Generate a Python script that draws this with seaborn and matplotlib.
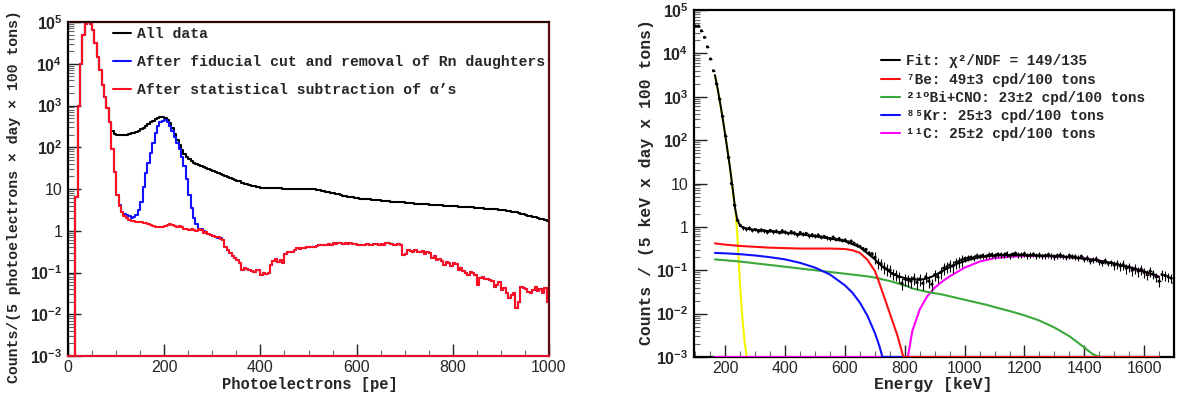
import numpy as np
import pandas as pd
import matplotlib
matplotlib.use("Agg")
import matplotlib.pyplot as plt
import seaborn as sns
from matplotlib.ticker import FixedLocator, FuncFormatter, MultipleLocator, NullFormatter
from matplotlib.lines import Line2D

# ---------------- LEFT PANEL DATA (log10 counts, 5-pe bins from 0 to 1000) ----------------
pe_bin_width = 5
all_data_log = [
    -5, -5, -5, 0.8, 3.0, 4.0, 4.7, 4.95, 5.0, 4.95, 4.8, 4.5, 4.15, 3.85, 3.5, 3.2, 2.95, 2.6, 2.38, 2.32,
    2.3, 2.29, 2.29, 2.29, 2.3, 2.31, 2.33, 2.35, 2.37, 2.4, 2.43, 2.47, 2.51, 2.55, 2.6, 2.64, 2.68, 2.71, 2.73, 2.73,
    2.7, 2.65, 2.57, 2.45, 2.32, 2.18, 2.05, 1.93, 1.83, 1.76, 1.71, 1.67, 1.63, 1.6, 1.57, 1.55, 1.52, 1.5, 1.47, 1.45,
    1.43, 1.41, 1.38, 1.36, 1.33, 1.31, 1.29, 1.27, 1.25, 1.22, 1.2, 1.18, 1.15, 1.13, 1.11, 1.09, 1.07, 1.06, 1.05, 1.04,
    1.03, 1.03, 1.02, 1.02, 1.02, 1.02, 1.02, 1.02, 1.02, 1.01, 1.01, 1.01, 1.01, 1.01, 1.0, 1.0, 1.0, 1.0, 1.0, 1.0,
    1.0, 0.99, 0.99, 0.98, 0.97, 0.96, 0.95, 0.94, 0.93, 0.91, 0.9, 0.88, 0.87, 0.86, 0.84, 0.83, 0.82, 0.81, 0.8, 0.79,
    0.78, 0.77, 0.77, 0.76, 0.75, 0.75, 0.74, 0.74, 0.73, 0.73, 0.72, 0.72, 0.71, 0.71, 0.7, 0.7, 0.69, 0.69, 0.68, 0.68,
    0.67, 0.67, 0.66, 0.66, 0.65, 0.65, 0.64, 0.64, 0.63, 0.63, 0.62, 0.62, 0.62, 0.61, 0.61, 0.61, 0.6, 0.6, 0.6, 0.59,
    0.59, 0.59, 0.58, 0.58, 0.57, 0.57, 0.57, 0.56, 0.56, 0.55, 0.55, 0.54, 0.54, 0.53, 0.53, 0.52, 0.52, 0.51, 0.51, 0.5,
    0.5, 0.49, 0.48, 0.47, 0.46, 0.45, 0.44, 0.42, 0.41, 0.39, 0.38, 0.36, 0.35, 0.33, 0.32, 0.3, 0.29, 0.27, 0.26, 0.24,
]
fiducial_log = [
    -5, -5, -5, 0.8, 3.0, 4.0, 4.7, 4.95, 5.0, 4.95, 4.8, 4.5, 4.15, 3.85, 3.5, 3.2, 2.95, 2.6, 1.95, 1.4,
    0.85, 0.62, 0.45, 0.4, 0.38, 0.35, 0.3, 0.34, 0.38, 0.5, 0.7, 1.05, 1.38, 1.62, 1.86, 2.1, 2.35, 2.5, 2.6, 2.64,
    2.65, 2.6, 2.5, 2.4, 2.25, 2.1, 1.95, 1.77, 1.55, 1.25, 0.85, 0.55, 0.3, 0.15, 0.05, 0.03, 0.0, -0.04, -0.08, -0.1,
    -0.12, -0.15, -0.17, -0.18, -0.22, -0.38, -0.45, -0.54, -0.6, -0.66, -0.7, -0.77, -0.94, -0.9, -0.92, -0.94, -0.96, -0.98, -0.95, -0.94,
    -1.06, -1.0, -1.04, -1.0, -0.82, -0.72, -0.68, -0.75, -0.7, -0.78, -0.55, -0.5, -0.52, -0.5, -0.46, -0.42, -0.44, -0.42, -0.42, -0.4,
    -0.38, -0.39, -0.38, -0.36, -0.34, -0.35, -0.33, -0.34, -0.32, -0.33, -0.3, -0.31, -0.29, -0.3, -0.31, -0.3, -0.32, -0.3, -0.31, -0.32,
    -0.34, -0.33, -0.35, -0.33, -0.32, -0.34, -0.33, -0.31, -0.32, -0.33, -0.32, -0.34, -0.3, -0.29, -0.31, -0.33, -0.35, -0.32, -0.33, -0.58,
    -0.55, -0.45, -0.48, -0.5, -0.47, -0.52, -0.5, -0.48, -0.56, -0.5, -0.53, -0.66, -0.6, -0.7, -0.68, -0.72, -0.82, -0.75, -0.77, -0.85,
    -0.78, -0.8, -0.94, -0.9, -0.96, -1.0, -1.06, -0.98, -1.02, -1.05, -1.3, -1.14, -1.1, -1.15, -1.16, -1.18, -1.2, -1.34, -1.3, -1.22,
    -1.42, -1.38, -1.5, -1.6, -1.54, -1.48, -1.86, -1.7, -1.34, -1.38, -1.4, -1.46, -1.5, -1.42, -1.35, -1.44, -1.4, -1.5, -1.38, -1.7,
]
alpha_sub_log = [
    -5, -5, -5, 0.8, 3.0, 4.0, 4.7, 4.95, 5.0, 4.95, 4.8, 4.5, 4.15, 3.85, 3.5, 3.2, 2.95, 2.6, 1.95, 1.4,
    0.85, 0.6, 0.45, 0.36, 0.3, 0.26, 0.24, 0.23, 0.22, 0.2, 0.22, 0.19, 0.18, 0.17, 0.14, 0.12, 0.1, 0.08, 0.1, 0.09,
    0.12, 0.13, 0.15, 0.13, 0.12, 0.1, 0.11, 0.08, 0.04, 0.03, 0.02, 0.03, 0.01, 0.0, 0.03, 0.02, -0.05, -0.04, -0.08, -0.1,
    -0.12, -0.15, -0.16, -0.2, -0.22, -0.38, -0.45, -0.54, -0.6, -0.66, -0.7, -0.77, -0.94, -0.9, -0.92, -0.94, -0.96, -0.98, -0.95, -0.94,
    -1.06, -1.0, -1.04, -1.0, -0.82, -0.72, -0.68, -0.75, -0.7, -0.78, -0.55, -0.5, -0.52, -0.5, -0.46, -0.42, -0.44, -0.42, -0.42, -0.4,
    -0.38, -0.39, -0.38, -0.36, -0.34, -0.35, -0.33, -0.34, -0.32, -0.33, -0.3, -0.31, -0.29, -0.3, -0.31, -0.3, -0.32, -0.3, -0.31, -0.32,
    -0.34, -0.33, -0.35, -0.33, -0.32, -0.34, -0.33, -0.31, -0.32, -0.33, -0.32, -0.34, -0.3, -0.29, -0.31, -0.33, -0.35, -0.32, -0.33, -0.58,
    -0.55, -0.45, -0.48, -0.5, -0.47, -0.52, -0.5, -0.48, -0.56, -0.5, -0.53, -0.66, -0.6, -0.7, -0.68, -0.72, -0.82, -0.75, -0.77, -0.85,
    -0.78, -0.8, -0.94, -0.9, -0.96, -1.0, -1.06, -0.98, -1.02, -1.05, -1.3, -1.14, -1.1, -1.15, -1.16, -1.18, -1.2, -1.34, -1.3, -1.22,
    -1.42, -1.38, -1.5, -1.6, -1.54, -1.48, -1.86, -1.7, -1.34, -1.38, -1.4, -1.46, -1.5, -1.42, -1.35, -1.44, -1.4, -1.5, -1.38, -1.7,
]
left_labels = ["All data",
               "After fiducial cut and removal of Rn daughters",
               "After statistical subtraction of \u03b1\u2019s"]

# ---------------- RIGHT PANEL DATA ----------------
data_energy_step = 10
data_energy_start = 100
data_log = [
    4.63, 4.63, 4.52, 4.37, 4.15, 3.87, 3.6, 3.3, 2.95, 2.55,
    2.1, 1.6, 1.0, 0.5, 0.15, 0.03, -0.02, -0.05, -0.03, -0.08,
    -0.06, -0.1, -0.07, -0.09, -0.12, -0.08, -0.11, -0.1, -0.13, -0.09,
    -0.12, -0.15, -0.11, -0.14, -0.18, -0.13, -0.17, -0.15, -0.2, -0.18,
    -0.21, -0.19, -0.24, -0.22, -0.25, -0.27, -0.24, -0.29, -0.27, -0.31,
    -0.3, -0.35, -0.33, -0.38, -0.42, -0.45, -0.5, -0.52, -0.6, -0.62,
    -0.7, -0.82, -0.85, -0.93, -0.97, -1.0, -1.08, -1.1, -1.15, -1.3,
    -1.2, -1.22, -1.25, -1.18, -1.28, -1.2, -1.3, -1.15, -1.25, -1.32,
    -1.1, -1.15, -1.05, -0.95, -0.92, -0.88, -0.9, -0.82, -0.8, -0.76,
    -0.73, -0.72, -0.7, -0.71, -0.67, -0.68, -0.66, -0.68, -0.65, -0.64,
    -0.66, -0.63, -0.64, -0.65, -0.62, -0.66, -0.63, -0.61, -0.65, -0.64,
    -0.62, -0.66, -0.65, -0.63, -0.67, -0.65, -0.68, -0.66, -0.64, -0.67,
    -0.69, -0.66, -0.65, -0.68, -0.7, -0.66, -0.68, -0.69, -0.72, -0.68,
    -0.75, -0.72, -0.79, -0.76, -0.74, -0.8, -0.83, -0.78, -0.84, -0.82,
    -0.88, -0.85, -0.9, -0.87, -0.95, -0.92, -1.0, -0.96, -1.02, -0.98,
    -1.05, -1.1, -1.02, -1.08, -1.15, -1.25, -1.1, -1.12, -1.15, -1.18,
    -1.3,
]
data_rel_err = [0.02] * 16 + [0.1] * 44 + [0.3] * 30 + [0.15] * 50 + [0.25] * 21

yellow_energy = [165, 175, 185, 195, 205, 215, 225, 235, 242, 250, 258, 265, 272]
yellow_log = [3.5, 3.15, 2.75, 2.32, 1.86, 1.38, 0.82, 0.28, -0.45, -1.45, -2.2, -2.7, -3.2]

fit_energy = [165, 175, 185, 195, 205, 215, 225, 232, 238, 245, 255, 270, 300, 350, 400, 450, 500,
              550, 600, 650, 700, 725, 750, 775, 800, 825, 850, 875, 900, 925, 950, 975, 1000, 1025,
              1050, 1075, 1100, 1150, 1200, 1250, 1300, 1350, 1400, 1450, 1500, 1550, 1600, 1650]
fit_log = [3.5, 3.15, 2.75, 2.32, 1.86, 1.38, 0.85, 0.45, 0.22, 0.08, 0.0, -0.04, -0.07, -0.1, -0.13,
           -0.17, -0.22, -0.27, -0.33, -0.47, -0.75, -0.92, -1.04, -1.13, -1.18, -1.21, -1.22, -1.19,
           -1.12, -1.02, -0.93, -0.85, -0.79, -0.74, -0.7, -0.68, -0.66, -0.65, -0.65, -0.66, -0.67,
           -0.7, -0.73, -0.78, -0.85, -0.93, -1.03, -1.15]

comp_energy = [165, 200, 250, 300, 350, 400, 450, 500, 550, 600,
               625, 650, 675, 700, 715, 725, 750, 775, 795, 800,
               810, 825, 850, 875, 900, 925, 950, 975, 1000, 1025,
               1050, 1075, 1100, 1150, 1200, 1250, 1300, 1350, 1400, 1425,
               1450, 1500, 1550, 1600, 1640, 1650]
be7_log = [-0.38, -0.41, -0.44, -0.46, -0.48, -0.49, -0.5, -0.5, -0.5, -0.51,
           -0.54, -0.6, -0.76, -1.02, -1.3, -1.5, -2.0, -2.5, -3.05, -6,
           -6, -6, -6, -6, -6, -6, -6, -6, -6, -6,
           -6, -6, -6, -6, -6, -6, -6, -6, -6, -6,
           -6, -6, -6, -6, -6, -6]
bi210_log = [-0.75, -0.77, -0.8, -0.84, -0.88, -0.92, -0.96, -1.0, -1.04, -1.08,
             -1.1, -1.12, -1.14, -1.17, -1.19, -1.21, -1.25, -1.3, -1.34, -1.35,
             -1.37, -1.42, -1.46, -1.5, -1.53, -1.56, -1.6, -1.64, -1.68, -1.72,
             -1.76, -1.8, -1.85, -1.94, -2.04, -2.16, -2.32, -2.52, -2.78, -2.92,
             -3.05, -6, -6, -6, -6, -6]
kr85_log = [-0.6, -0.61, -0.63, -0.66, -0.7, -0.75, -0.83, -0.94, -1.1, -1.35,
            -1.52, -1.75, -2.05, -2.45, -2.75, -3.05, -6, -6, -6, -6,
            -6, -6, -6, -6, -6, -6, -6, -6, -6, -6,
            -6, -6, -6, -6, -6, -6, -6, -6, -6, -6,
            -6, -6, -6, -6, -6, -6]
c11_log = [-6, -6, -6, -6, -6, -6, -6, -6, -6, -6,
           -6, -6, -6, -6, -6, -6, -6, -6, -6, -6,
           -3.0, -2.4, -1.9, -1.6, -1.4, -1.26, -1.14, -1.04, -0.94, -0.87,
           -0.8, -0.76, -0.72, -0.69, -0.67, -0.67, -0.68, -0.7, -0.73, -0.75,
           -0.78, -0.85, -0.93, -1.03, -1.12, -1.15]

right_labels = ["Fit: \u03c7\u00b2/NDF = 149/135",
                "\u2077Be: 49\u00b13 cpd/100 tons",
                "\u00b2\u00b9\u2070Bi+CNO: 23\u00b12 cpd/100 tons",
                "\u2078\u2075Kr: 25\u00b13 cpd/100 tons",
                "\u00b9\u00b9C: 25\u00b12 cpd/100 tons"]

# ---------------- STYLE ----------------
sns.set_theme(style="ticks")
plt.rcParams["font.family"] = ["Liberation Sans", "DejaVu Sans"]
plt.rcParams["mathtext.fontset"] = "custom"
plt.rcParams["mathtext.rm"] = "Liberation Sans:bold"
plt.rcParams["mathtext.bf"] = "Liberation Sans:bold"
plt.rcParams["mathtext.it"] = "Liberation Sans:bold"
MONO = ["Liberation Mono", "DejaVu Sans Mono"]
MONO_SUP = ["Liberation Mono", "DejaVu Sans"]

W, H = 1181, 396
fig = plt.figure(figsize=(W / 100, H / 100), dpi=100)


def px_axes(l, t, r, b):
    return fig.add_axes([l / W, 1 - b / H, (r - l) / W, (b - t) / H])


axL = px_axes(68, 22, 549, 356)
axR = px_axes(694, 10, 1174, 357)


def log_fmt(v, pos):
    e = int(round(np.log10(v)))
    if e == 0:
        return "1"
    if e == 1:
        return "10"
    return r"$\mathbf{10^{%d}}$" % e


major_y = [10.0 ** e for e in range(-3, 6)]
minor_y = [m * 10.0 ** e for e in range(-3, 5) for m in range(2, 10)]

for ax in (axL, axR):
    ax.set_yscale("log")
    ax.set_ylim(1e-3, 1e5)
    ax.yaxis.set_major_locator(FixedLocator(major_y))
    ax.yaxis.set_minor_locator(FixedLocator(minor_y))
    ax.yaxis.set_major_formatter(FuncFormatter(log_fmt))
    ax.yaxis.set_minor_formatter(NullFormatter())
    ax.xaxis.set_major_locator(MultipleLocator(200))
    ax.xaxis.set_minor_locator(MultipleLocator(50))
    ax.tick_params(which="both", direction="in", top=False, right=False, color="#222222")
    ax.tick_params(which="major", length=9, width=1.0)
    ax.tick_params(which="minor", length=4.5, width=0.8, color="#666666")
    ax.tick_params(axis="x", which="major", pad=3)
    ax.tick_params(axis="y", which="major", pad=4)
    ax.tick_params(labelsize=11.5)
    for sp in ax.spines.values():
        sp.set_linewidth(1.6)
        sp.set_color("black")
        sp.set_visible(True)

# ---------------- LEFT PANEL ----------------
edges = np.arange(0, 1000 + pe_bin_width, pe_bin_width)
hist_df = pd.DataFrame({
    "pe": np.tile(edges, 3),
    "counts": np.concatenate([
        10 ** np.append(all_data_log, all_data_log[-1]),
        10 ** np.append(fiducial_log, fiducial_log[-1]),
        10 ** np.append(alpha_sub_log, alpha_sub_log[-1]),
    ]),
    "set": np.repeat(left_labels, len(edges)),
})
left_colors = ["black", "#1010ff", "#ff1020"]
for lab, col in zip(left_labels, left_colors):
    sub = hist_df[hist_df["set"] == lab]
    sns.lineplot(data=sub, x="pe", y="counts", ax=axL, color=col, linewidth=1.5,
                 drawstyle="steps-post", estimator=None, sort=False, legend=False)
axL.set_xlim(0, 1000)
axL.spines["bottom"].set_color("#e0102a")
axL.spines["right"].set_color("#5a0a10")
axL.spines["top"].set_color("#2a0508")
axL.set_xlabel("")
axL.set_ylabel("")

handlesL = [Line2D([], [], color=c, lw=1.5) for c in left_colors]
axL.legend(handlesL, left_labels, loc="upper left", bbox_to_anchor=(0.0936, 0.985),
           frameon=False, borderpad=0, borderaxespad=0, handlelength=1.2,
           handletextpad=0.45, labelspacing=0.95,
           prop={"family": MONO, "weight": "bold", "size": 10.6})

fig.text(310 / W, 1 - 385 / H, "Photoelectrons [pe]", ha="center", va="center",
         family=MONO, weight="bold", fontsize=11.2)
fig.text(14 / W, 1 - 197 / H, "Counts/(5 photoelectrons \u00d7 day \u00d7 100 tons)",
         ha="center", va="center", rotation=90, family=MONO, weight="bold", fontsize=10.7)

# ---------------- RIGHT PANEL ----------------
floor = 1e-3
comp_df = pd.DataFrame({"energy": comp_energy,
                        "be7": np.clip(10 ** np.array(be7_log), floor, None),
                        "bi210": np.clip(10 ** np.array(bi210_log), floor, None),
                        "kr85": np.clip(10 ** np.array(kr85_log), floor, None),
                        "c11": np.clip(10 ** np.array(c11_log), floor, None)})
yellow_df = pd.DataFrame({"energy": yellow_energy,
                          "counts": np.clip(10 ** np.array(yellow_log), floor, None)})
fit_df = pd.DataFrame({"energy": fit_energy, "counts": 10 ** np.array(fit_log)})
data_energy = data_energy_start + data_energy_step * np.arange(len(data_log))
data_df = pd.DataFrame({"energy": data_energy, "counts": 10 ** np.array(data_log)})
data_df["err"] = data_df["counts"] * np.array(data_rel_err)

sns.lineplot(data=yellow_df, x="energy", y="counts", ax=axR, color="#f5f500", lw=1.5,
             estimator=None, sort=False, zorder=3)
sns.lineplot(data=comp_df, x="energy", y="c11", ax=axR, color="#ff00ff", lw=1.5,
             estimator=None, sort=False, zorder=3)
sns.lineplot(data=comp_df, x="energy", y="bi210", ax=axR, color="#3aa83a", lw=1.5,
             estimator=None, sort=False, zorder=3)
sns.lineplot(data=comp_df, x="energy", y="kr85", ax=axR, color="#1010ff", lw=1.5,
             estimator=None, sort=False, zorder=3)
sns.lineplot(data=comp_df, x="energy", y="be7", ax=axR, color="#ff1010", lw=1.5,
             estimator=None, sort=False, zorder=3)
sns.lineplot(data=fit_df, x="energy", y="counts", ax=axR, color="black", lw=1.4,
             estimator=None, sort=False, zorder=4)
axR.errorbar(data_df["energy"], data_df["counts"], yerr=data_df["err"], xerr=data_energy_step / 2,
             fmt="none", ecolor="black", elinewidth=0.8, zorder=5)
sns.scatterplot(data=data_df, x="energy", y="counts", ax=axR, color="black", s=5,
                edgecolor="none", zorder=6)
axR.set_xlim(95, 1700)
axR.set_xlabel("")
axR.set_ylabel("")

handlesR = [Line2D([], [], color=c, lw=1.5) for c in
            ["black", "#ff1010", "#3aa83a", "#1010ff", "#ff00ff"]]
axR.legend(handlesR, right_labels, loc="upper left", bbox_to_anchor=(0.39, 0.872),
           frameon=False, borderpad=0, borderaxespad=0, handlelength=1.3,
           handletextpad=0.45, labelspacing=0.29,
           prop={"family": MONO_SUP, "weight": "bold", "size": 10.4})

fig.text(933 / W, 1 - 385 / H, "Energy [keV]", ha="center", va="center",
         family=MONO, weight="bold", fontsize=11.8)
fig.text(646 / W, 1 - 182 / H, "Counts / (5 keV x day x 100 tons)",
         ha="center", va="center", rotation=90, family=MONO, weight="bold", fontsize=11.8)

fig.savefig("out.png", dpi=100)
